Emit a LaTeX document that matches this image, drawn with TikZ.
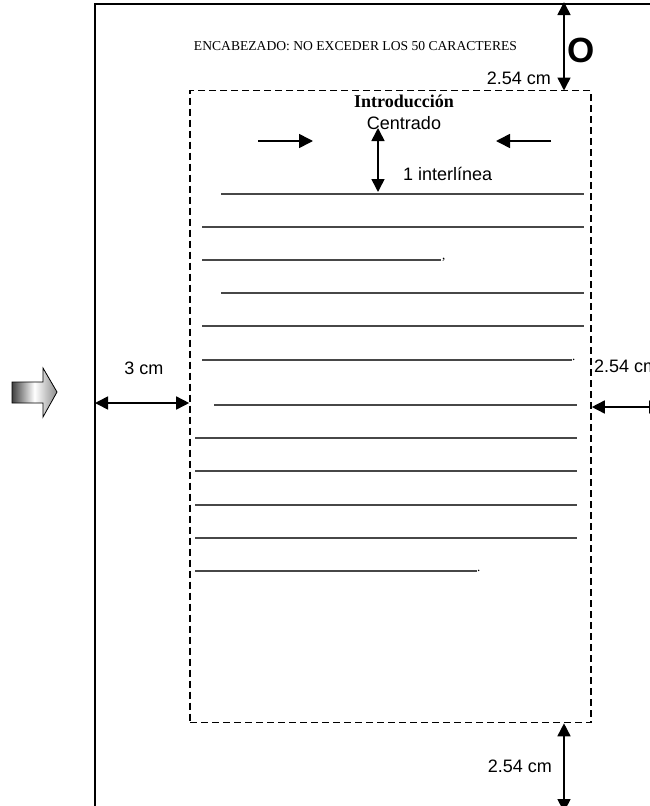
\documentclass[tikz,border=0pt]{standalone}
\usepackage{fontspec}
\setmainfont{Liberation Serif}
\setsansfont{Liberation Sans}
\usetikzlibrary{arrows.meta}
\begin{document}
\begin{tikzpicture}[x=1pt,y=-1pt,
  dim/.style={line width=1.6pt,{Triangle[length=13pt,width=13pt]}-{Triangle[length=13pt,width=13pt]}},
  ptr/.style={line width=1.6pt,-{Triangle[length=14pt,width=14pt]}},
  lbl/.style={font=\fontsize{18}{20}\selectfont\sffamily, inner sep=0pt},
  wline/.style={line width=1.2pt, draw=black!72},
  page/.style={line width=1.6pt},
  bodybox/.style={draw, line width=1.6pt, dash pattern=on 7pt off 4pt, minimum width=401pt, minimum height=632pt, inner sep=0pt},
]
\useasboundingbox (0,0) rectangle (649,806);
% page outline
\coordinate (pgBL) at (95,812);
\coordinate (pgTL) at (95,4);
\coordinate (pgTR) at (660,4);
\draw[page] (pgBL) -- (pgTL) -- (pgTR);
% text body area
\node[bodybox] (body) at (390.5,406.5) {};
% header
\node[font=\fontsize{13.6}{15}\selectfont, inner sep=0pt] (header) at (355.5,46.5) {ENCABEZADO: NO EXCEDER LOS 50 CARACTERES};
\node[font=\fontsize{35}{36}\selectfont\sffamily\bfseries, inner sep=0pt] (pnum) at (581.5,50.5) {O};
% top margin
\coordinate (topA) at (564,2);
\coordinate (topB) at (564,90.5);
\draw[dim] (topA) -- (topB);
\node[lbl, anchor=east] (toplbl) at (551,78) {2.54 cm};
% title
\node[font=\fontsize{18}{20}\selectfont\bfseries, inner sep=0pt] (title) at (404,101) {Introducción};
\node[lbl] (centrado) at (404,123) {Centrado};
\coordinate (raS) at (258,141);
\coordinate (raE) at (313,141);
\coordinate (laS) at (551,141);
\coordinate (laE) at (496,141);
\draw[ptr] (raS) -- (raE);
\draw[ptr] (laS) -- (laE);
\coordinate (ilA) at (378,128);
\coordinate (ilB) at (378,192);
\draw[dim] (ilA) -- (ilB);
\node[lbl, anchor=west] (inter) at (403,174) {1 interlínea};
% written lines
\foreach \xa/\xb/\yy in {221/584/194, 202/584/227, 202/441/260, 221/584/293, 202/584/326, 202/572/360,
  214/577/405, 195/577/438, 195/577/471, 195/577/505, 195/577/538, 195/477/571}
  \draw[wline] (\xa,\yy) -- (\xb,\yy);
\node[font=\fontsize{13}{14}\selectfont, inner sep=0pt, anchor=south west] (c1) at (442,262) {,};
\node[font=\fontsize{13}{14}\selectfont, inner sep=0pt, anchor=south west] (p1) at (572,361) {.};
\node[font=\fontsize{13}{14}\selectfont, inner sep=0pt, anchor=south west] (p2) at (477,572) {.};
% left margin
\coordinate (lmA) at (95,403);
\draw[dim] (lmA) -- (lmA -| body.west);
\node[lbl] (lmlbl) at (144,368) {3 cm};
% right margin
\coordinate (rmB) at (662,407);
\draw[dim] (rmB -| body.east) -- (rmB);
\node[lbl, anchor=west] (rmlbl) at (594,366) {2.54 cm};
% bottom margin
\coordinate (bmB) at (564,812);
\draw[dim] (bmB |- body.south) -- (bmB);
\node[lbl, anchor=east] (bmlbl) at (552,766) {2.54 cm};
% block arrow
\path[left color=black!75, right color=black!45, middle color=white]
  (12,382) -- (43,382) -- (43,368) -- (57,392) -- (43,417) -- (43,403) -- (12,403) -- cycle;
\draw[line width=0.8pt] (12,382) -- (43,382) -- (43,368) -- (57,392) -- (43,417) -- (43,403) -- (12,403) -- cycle;
\end{tikzpicture}
\end{document}
